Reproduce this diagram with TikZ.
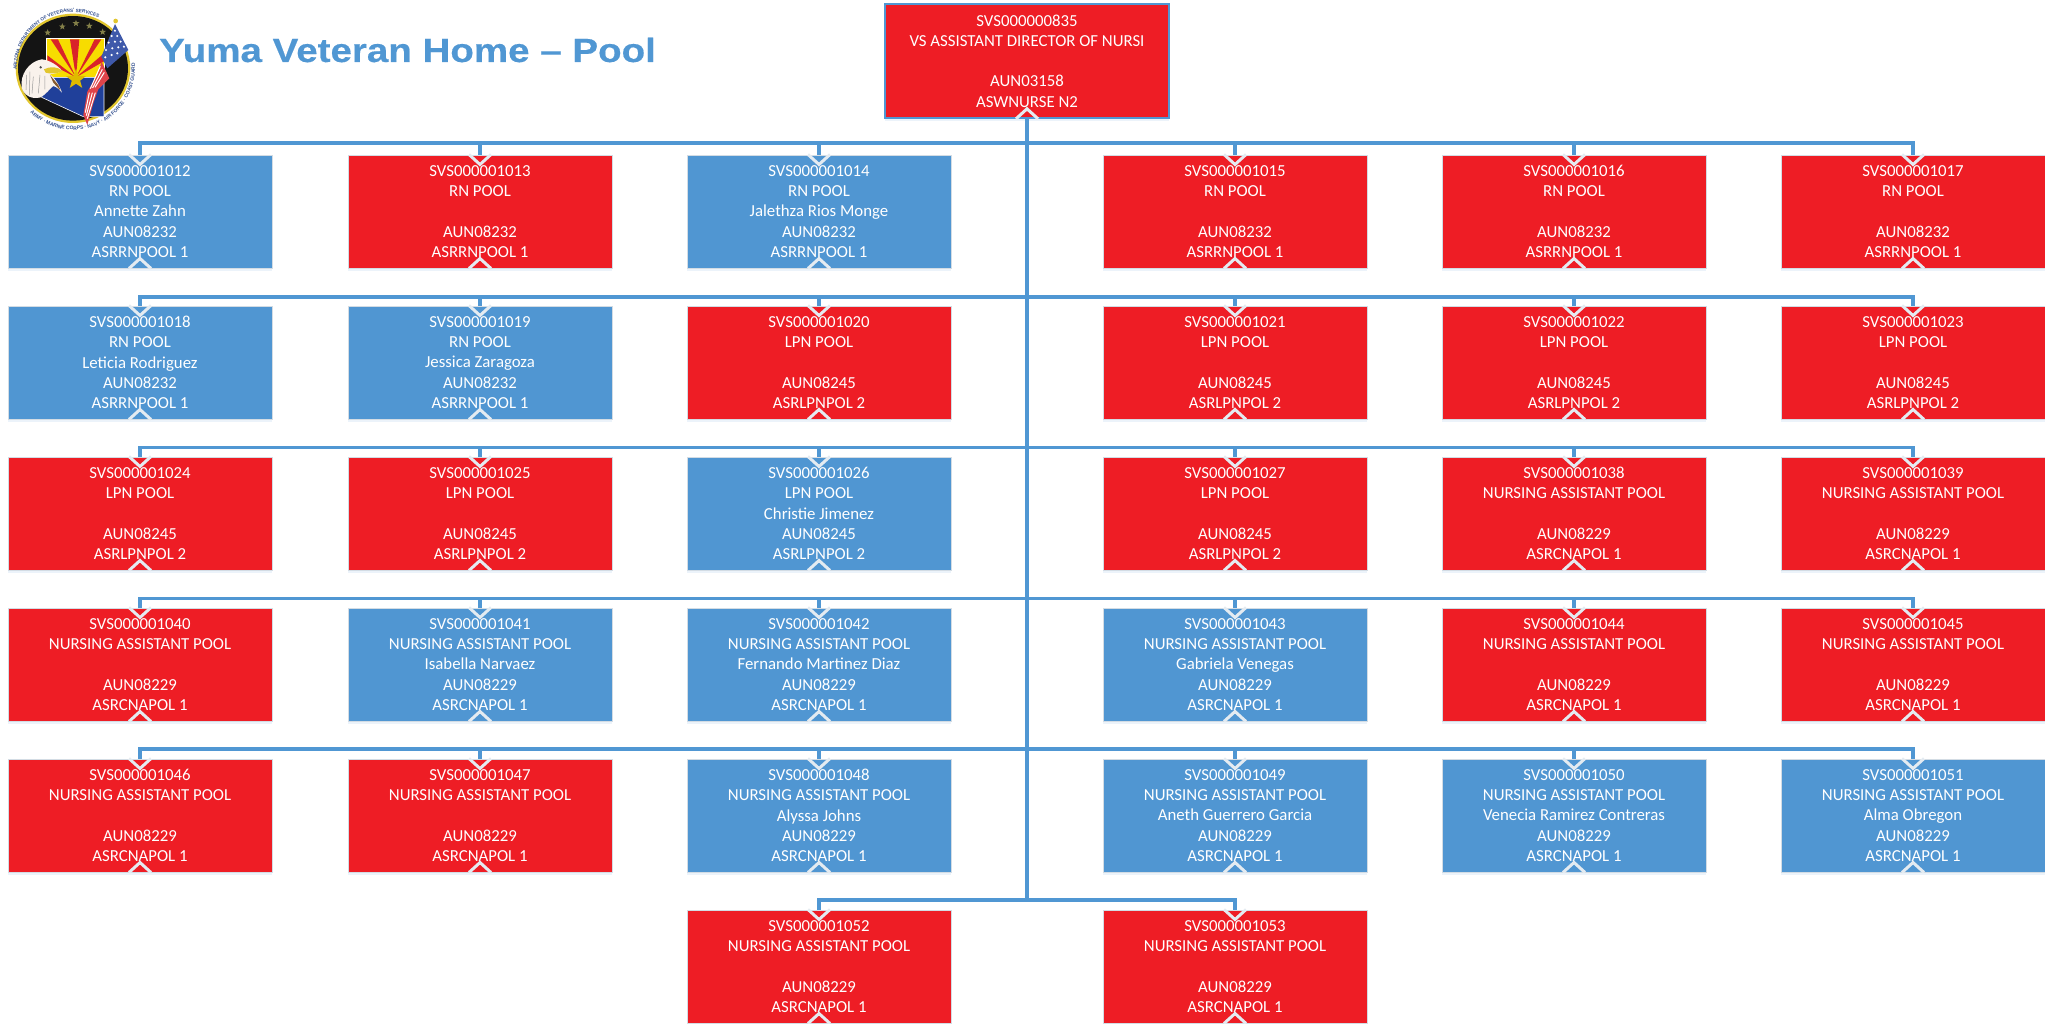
\documentclass[tikz,border=0pt]{standalone}
\usepackage{fontspec}
\setmainfont{Carlito}
\newfontfamily\titlefont{Liberation Sans}[FakeStretch=1.15,FakeBold=0.4]
\newfontfamily\logofont{Liberation Sans}
\usetikzlibrary{shadows,shapes.geometric,decorations.text}
\definecolor{poolblue}{HTML}{5096D2}
\definecolor{poolred}{HTML}{EE1D25}
\definecolor{busblue}{HTML}{5097D3}
\definecolor{edgegrey}{HTML}{D3DCE4}
\definecolor{chevgrey}{HTML}{E4EBF1}
\definecolor{sealblue}{HTML}{20409A}
\definecolor{sealtext}{HTML}{33508F}
\definecolor{sealyellow}{HTML}{F7DC00}
\definecolor{sealred}{HTML}{D9232A}
\definecolor{sealgold}{HTML}{E2C62E}
\definecolor{sealflag}{HTML}{3F59AA}
\tikzset{
  posbox/.style={draw=edgegrey,line width=1pt,minimum width=264pt,minimum height=113pt,inner sep=0pt,
    text=white,align=center,font=\fontsize{16.8}{20.2}\selectfont,
    drop shadow={shadow xshift=0pt,shadow yshift=-3pt,fill=poolblue!35,opacity=.3}},
  filledpos/.style={posbox,fill=poolblue},
  vacantpos/.style={posbox,fill=poolred},
  topbox/.style={posbox,fill=poolred,draw=busblue,line width=1.6pt,minimum width=284pt,minimum height=114pt},
  bus/.style={draw=busblue,line width=3.6pt},
  chev/.style={draw=chevgrey,line width=3pt,line join=miter},
  titletext/.style={text=busblue,inner sep=0pt,anchor=west,font=\titlefont\bfseries\fontsize{33.5}{36}\selectfont},
  ray/.style={fill=sealred,draw=none},
  logostar/.style={star,star points=5,star point ratio=2.4,inner sep=0pt,fill=#1,draw=none}
}
\newcommand{\posn}[8]{%
  \node[#4] (b#1) at (#2,#3+56.5) {SVS00000#1\\#5\\\strut #6\\#7\\#8};
  \draw[chev] ([xshift=-11pt]b#1.south) -- ([yshift=10pt]b#1.south) -- ([xshift=11pt]b#1.south);
}
\def\rnp{RN POOL}\def\rna{AUN08232}\def\rnc{ASRRNPOOL 1}
\def\lpp{LPN POOL}\def\lpa{AUN08245}\def\lpc{ASRLPNPOL 2}
\def\nap{NURSING ASSISTANT POOL}\def\naa{AUN08229}\def\nac{ASRCNAPOL 1}
\begin{document}
\begin{tikzpicture}[x=1pt,y=-1pt]
\useasboundingbox (0,0) rectangle (2045,1023);
\fill[white] (0,0) rectangle (2045,1023);

% ---- trunk points of the buses
\coordinate (t1) at (1027,143);
\coordinate (t2) at (1027,297);
\coordinate (t3) at (1027,447.5);
\coordinate (t4) at (1027,598.5);
\coordinate (t5) at (1027,749);
\coordinate (t6) at (1027,900);

% ---- top position
\node[topbox] (b0835) at (1027,61) {SVS000000835\\VS ASSISTANT DIRECTOR OF NURSI\\\strut\\AUN03158\\ASWNURSE N2};
\draw[bus] (b0835.south) -- (t6);
\draw[chev] ([xshift=-11pt]b0835.south) -- ([yshift=10pt]b0835.south) -- ([xshift=11pt]b0835.south);

% ---- row 1
\posn{1012}{140}{155}{filledpos}{\rnp}{Annette Zahn}{\rna}{\rnc}
\posn{1013}{480}{155}{vacantpos}{\rnp}{}{\rna}{\rnc}
\posn{1014}{819}{155}{filledpos}{\rnp}{Jalethza Rios Monge}{\rna}{\rnc}
\posn{1015}{1235}{155}{vacantpos}{\rnp}{}{\rna}{\rnc}
\posn{1016}{1574}{155}{vacantpos}{\rnp}{}{\rna}{\rnc}
\posn{1017}{1913}{155}{vacantpos}{\rnp}{}{\rna}{\rnc}
% ---- row 2
\posn{1018}{140}{306}{filledpos}{\rnp}{Leticia Rodriguez}{\rna}{\rnc}
\posn{1019}{480}{306}{filledpos}{\rnp}{Jessica Zaragoza}{\rna}{\rnc}
\posn{1020}{819}{306}{vacantpos}{\lpp}{}{\lpa}{\lpc}
\posn{1021}{1235}{306}{vacantpos}{\lpp}{}{\lpa}{\lpc}
\posn{1022}{1574}{306}{vacantpos}{\lpp}{}{\lpa}{\lpc}
\posn{1023}{1913}{306}{vacantpos}{\lpp}{}{\lpa}{\lpc}
% ---- row 3
\posn{1024}{140}{457}{vacantpos}{\lpp}{}{\lpa}{\lpc}
\posn{1025}{480}{457}{vacantpos}{\lpp}{}{\lpa}{\lpc}
\posn{1026}{819}{457}{filledpos}{\lpp}{Christie Jimenez}{\lpa}{\lpc}
\posn{1027}{1235}{457}{vacantpos}{\lpp}{}{\lpa}{\lpc}
\posn{1038}{1574}{457}{vacantpos}{\nap}{}{\naa}{\nac}
\posn{1039}{1913}{457}{vacantpos}{\nap}{}{\naa}{\nac}
% ---- row 4
\posn{1040}{140}{608}{vacantpos}{\nap}{}{\naa}{\nac}
\posn{1041}{480}{608}{filledpos}{\nap}{Isabella Narvaez}{\naa}{\nac}
\posn{1042}{819}{608}{filledpos}{\nap}{Fernando Martinez Diaz}{\naa}{\nac}
\posn{1043}{1235}{608}{filledpos}{\nap}{Gabriela Venegas}{\naa}{\nac}
\posn{1044}{1574}{608}{vacantpos}{\nap}{}{\naa}{\nac}
\posn{1045}{1913}{608}{vacantpos}{\nap}{}{\naa}{\nac}
% ---- row 5
\posn{1046}{140}{759}{vacantpos}{\nap}{}{\naa}{\nac}
\posn{1047}{480}{759}{vacantpos}{\nap}{}{\naa}{\nac}
\posn{1048}{819}{759}{filledpos}{\nap}{Alyssa Johns}{\naa}{\nac}
\posn{1049}{1235}{759}{filledpos}{\nap}{Aneth Guerrero Garcia}{\naa}{\nac}
\posn{1050}{1574}{759}{filledpos}{\nap}{Venecia Ramirez Contreras}{\naa}{\nac}
\posn{1051}{1913}{759}{filledpos}{\nap}{Alma Obregon}{\naa}{\nac}
% ---- row 6
\posn{1052}{819}{910}{vacantpos}{\nap}{}{\naa}{\nac}
\posn{1053}{1235}{910}{vacantpos}{\nap}{}{\naa}{\nac}

% ---- connectors to each child
\foreach \k/\list in {1/{1012,1013,1014,1015,1016,1017},2/{1018,1019,1020,1021,1022,1023},3/{1024,1025,1026,1027,1038,1039},4/{1040,1041,1042,1043,1044,1045},5/{1046,1047,1048,1049,1050,1051},6/{1052,1053}}{
  \foreach \c in \list { \draw[bus] (t\k) -| (b\c.north); }
}
% chevrons where the connectors enter
\foreach \c in {1012,1013,1014,1015,1016,1017,1018,1019,1020,1021,1022,1023,1024,1025,1026,1027,1038,1039,1040,1041,1042,1043,1044,1045,1046,1047,1048,1049,1050,1051,1052,1053}{
  \draw[chev] ([xshift=-11pt]b\c.north) -- ([yshift=-10pt]b\c.north) -- ([xshift=11pt]b\c.north);
}

% ---- title
\node[titletext] (title) at (159,50) {Yuma Veteran Home – Pool};

% ---- logo (crop coordinates: 3 units per pixel)
\begin{scope}[x=0.3333pt,y=-0.3333pt]
  \fill[sealgold] (219,205) ellipse [x radius=172,y radius=164];
  \fill[black!92] (219,205) ellipse [x radius=165,y radius=157];
  \foreach \i/\sx/\sy in {1/143/98,2/187/80,3/228/70,4/268/78,5/308/96}{
    \node[logostar=yellow!45!black,minimum size=7pt] (ls\i) at (\sx,\sy) {};
  }
  % state: sunrise
  \fill[white] (139,115) rectangle (315,235);
  \fill[sealyellow] (142,118) rectangle (312,232);
  \path[ray] (228,232) -- (210,118) -- (238,118) -- cycle;
  \path[ray] (228,232) -- (152,118) -- (174,118) -- cycle;
  \path[ray] (228,232) -- (284,118) -- (304,118) -- cycle;
  \path[ray] (228,232) -- (142,166) -- (142,188) -- cycle;
  \path[ray] (228,232) -- (312,160) -- (312,184) -- cycle;
  % state: lower part
  \fill[fill=sealblue,draw=white,line width=.6pt] (142,232) -- (312,232) -- (312,350) -- (250,350) -- (125,292) -- (138,250) -- cycle;
  % star
  \node[logostar=sealyellow!85!orange!90!black,minimum size=21pt] (bigstar) at (228,238) {};
  % flag
  \fill[sealflag] (345,72) -- (385,150) -- (322,205) -- (304,170) -- cycle;
  \foreach \i/\sx/\sy in {1/345/92,2/335/108,3/352/108,4/326/128,5/345/125,6/362/125,7/318/150,8/337/145,9/355/142,10/372/140,11/316/172,12/335/165,13/352/160}{
    \fill[white] (\sx,\sy) circle (3.5);
  }
  \fill[sealgold] (347,63) circle (7);
  \fill[sealred!85!white] (305,185) -- (328,235) -- (295,268) -- (280,310) -- (262,375) -- (250,345) -- (262,275) -- (292,225) -- cycle;
  \foreach \d in {0,1,2}{
    \draw[white,line width=1pt] (301+\d*6,199+\d*9) -- (271+\d*7,266+\d*-2);
    \draw[white,line width=1pt] (268+\d*9,278) -- (256+\d*3,338+\d*9);
  }
  % eagle
  \fill[white!90!brown] (125,178) .. controls (85,185) and (60,225) .. (65,262)
     .. controls (70,285) and (95,300) .. (122,292) .. controls (140,282) and (150,265) .. (160,258)
     .. controls (172,262) and (180,270) .. (186,278) .. controls (178,255) and (165,235) .. (150,222)
     .. controls (165,222) and (178,218) .. (186,212) .. controls (175,198) and (150,180) .. (125,178) -- cycle;
  \draw[black!40,line width=.5pt] (80,225) -- (78,270) (100,230) -- (96,280) (120,225) -- (115,280) (90,215) -- (88,285) (135,228) -- (135,268);
  \fill[brown!70!black] (150,225) -- (175,255) -- (182,272) -- (160,248) -- cycle;
  \fill[sealgold] (132,208) .. controls (150,198) and (175,200) .. (188,213) .. controls (170,222) and (150,222) .. (137,218) -- cycle;
  \fill[black!70] (122,202) circle (4);
\end{scope}
\begin{scope}[shift={(73,68)},x=1pt,y=1pt]
  \path[decorate,decoration={text along path,text align=center,
     text={|\logofont\bfseries\fontsize{4.7}{5}\selectfont\color{sealtext}|ARIZONA DEPARTMENT OF VETERANS' SERVICES}}]
     (190:56) arc [start angle=190,end angle=55,radius=56];
  \path[decorate,decoration={text along path,text align=center,
     text={|\logofont\bfseries\fontsize{5}{5.5}\selectfont\color{sealtext}|ARMY · MARINE CORPS · NAVY · AIR FORCE · COAST GUARD}}]
     (217:62) arc [start angle=217,end angle=374,radius=62];
\end{scope}
\end{tikzpicture}
\end{document}
